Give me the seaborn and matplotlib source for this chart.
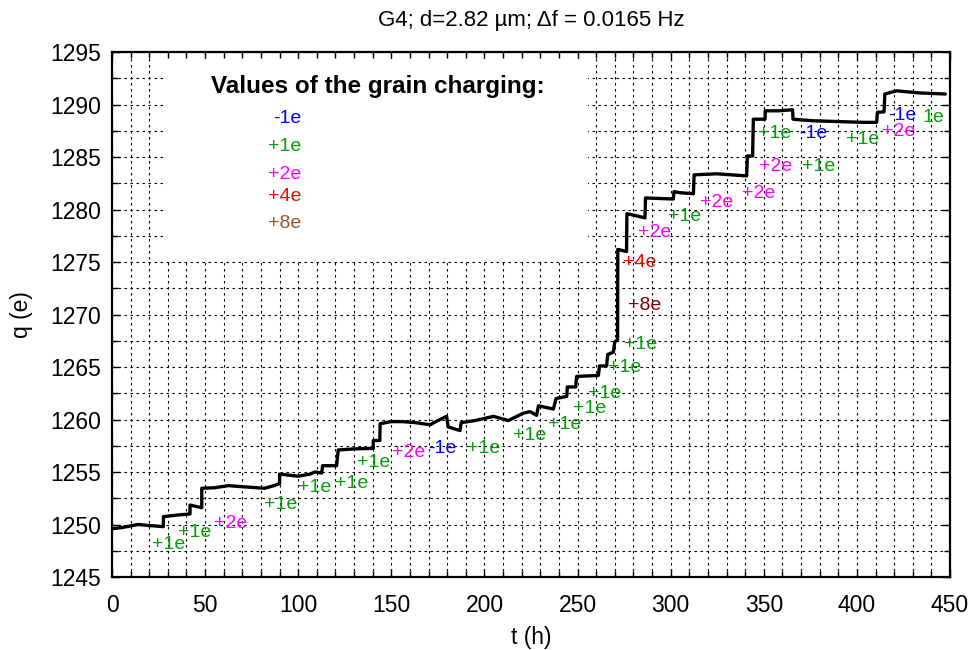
import matplotlib
matplotlib.use("Agg")
import matplotlib.pyplot as plt
import seaborn as sns
import pandas as pd
from matplotlib.patches import Rectangle
from matplotlib.ticker import MultipleLocator

# ---- data: grain charge vs time ----
t_h = [0, 5, 14, 20, 27.6, 27.6, 35, 41.9, 41.9, 48.2, 48.2, 55, 62.5, 70, 82, 87, 90, 90,
       100, 106.3, 109, 112.6, 113.1, 120.6, 121.5, 130, 140.3, 140.3, 143.8, 144, 150, 156,
       163, 170.8, 175, 179.7, 180.5, 184, 186.9, 187.5, 195, 204.8, 212.8, 220.9, 224.5,
       228, 229, 237, 238.5, 244.2, 244.5, 249, 249.5, 261.2, 261.8, 265.6, 266.2, 269.2,
       270, 271.5, 271.6, 276.3, 276.5, 281.7, 286.2, 286.5, 301.4, 301.8, 305, 312.2,
       312.6, 324.7, 340.8, 341.2, 344.0, 344.4, 350.7, 350.8, 358, 365.5, 365.7, 376.6,
       394.5, 403.5, 410.6, 411, 414.6, 415, 421.4, 433.9, 447.5]
q_e = [1249.6, 1249.7, 1250.0, 1249.9, 1249.8, 1250.75, 1250.9, 1251.0, 1251.85, 1251.6,
       1253.45, 1253.5, 1253.7, 1253.6, 1253.45, 1253.7, 1253.9, 1254.8, 1254.6, 1254.8,
       1255.0, 1254.9, 1255.6, 1255.6, 1257.1, 1257.2, 1257.25, 1258.0, 1258.0, 1259.6,
       1259.8, 1259.8, 1259.7, 1259.5, 1259.9, 1260.3, 1259.3, 1259.1, 1258.95, 1259.7,
       1259.9, 1260.3, 1259.9, 1260.6, 1260.75, 1260.4, 1261.3, 1261.0, 1262.0, 1262.2,
       1263.1, 1263.1, 1264.1, 1264.2, 1265.1, 1265.1, 1266.2, 1266.4, 1267.4, 1267.6,
       1276.2, 1276.0, 1279.6, 1279.4, 1279.2, 1281.1, 1281.0, 1281.7, 1281.6, 1281.5,
       1283.3, 1283.4, 1283.2, 1285.1, 1285.1, 1288.6, 1288.6, 1289.4, 1289.4, 1289.5,
       1288.6, 1288.45, 1288.35, 1288.3, 1288.3, 1289.25, 1289.3, 1291.0, 1291.3, 1291.1,
       1291.0]

# ---- step annotations ----
ann_text = ["+1e", "+1e", "+2e", "+1e", "+1e", "+1e", "+1e", "+2e", "-1e", "+1e",
            "+1e", "+1e", "+1e", "+1e", "+1e", "+1e", "+8e", "+4e", "+2e", "+1e",
            "+2e", "+2e", "+2e", "+1e", "+1e", "-1e", "+1e", "+2e", "-1e", "1e"]
ann_t = [30.2, 44.6, 63.9, 90.8, 109.0, 128.6, 140.3, 159.1, 177.5, 199.4,
         224.5, 243.3, 256.7, 264.7, 275.5, 283.9, 286.2, 283.5, 291.6, 307.7,
         324.7, 347.1, 356.6, 379.3, 356.0, 376.6, 403.1, 422.2, 424.1, 441.0]
ann_q = [1248.05, 1249.22, 1250.14, 1251.9, 1253.57, 1253.86, 1255.95, 1256.84, 1257.26, 1257.26,
         1258.46, 1259.57, 1261.05, 1262.5, 1264.97, 1267.1, 1270.9, 1274.93, 1277.8, 1279.3,
         1280.65, 1281.48, 1284.08, 1284.08, 1287.26, 1287.26, 1286.69, 1287.4, 1288.95, 1288.78]

# ---- key entries ----
key_title = "Values of the grain charging:"
key_text = ["-1e", "+1e", "+2e", "+4e", "+8e"]
key_q = [1288.62, 1285.98, 1283.35, 1281.22, 1278.62]

colors_ann = {"-1e": "#0000ff", "+1e": "#00a000", "1e": "#00a000", "+2e": "#ff00ff",
              "+4e": "#ff0000", "+8e": "#800000"}
colors_key = {"-1e": "#0000ff", "+1e": "#00a000", "+2e": "#ff00ff",
              "+4e": "#ff0000", "+8e": "#a0522d"}

sns.set_theme(style="white")
plt.rcParams['font.family'] = ['Liberation Sans', 'DejaVu Sans']

fig = plt.figure(figsize=(9.72, 6.5), dpi=100)
ax = fig.add_axes([112/972, 1-577/650, (950-112)/972, (577-52)/650])

df = pd.DataFrame({"t": t_h, "q": q_e})
sns.lineplot(data=df, x="t", y="q", sort=False, estimator=None, color="black",
             linewidth=2.4, ax=ax, zorder=3)

ax.set_xlim(0, 450)
ax.set_ylim(1245, 1295)
ax.xaxis.set_major_locator(MultipleLocator(50))
ax.xaxis.set_minor_locator(MultipleLocator(10))
ax.yaxis.set_major_locator(MultipleLocator(5))
ax.yaxis.set_minor_locator(MultipleLocator(2.5))
ax.tick_params(which="both", direction="in", top=True, right=True, bottom=True, left=True,
               color="black", width=1.0)
ax.tick_params(which="major", length=6, labelsize=16.5)
ax.tick_params(which="minor", length=4)
ax.tick_params(axis="x", which="major", pad=12)
ax.tick_params(axis="y", which="major", pad=8)
ax.set_axisbelow(True)
ax.grid(True, which="both", color="black", linestyle=(0, (2.2, 3.2)), linewidth=0.8)
for s in ax.spines.values():
    s.set_color("black")
    s.set_linewidth(1.6)

# white key box covering the grid
ax.add_patch(Rectangle((27.4, 1275.15), 255.6 - 27.4, 1294.3 - 1275.15,
                       facecolor="white", edgecolor="none", zorder=1))
ax.text(143.0, 1291.7, key_title, fontsize=17.5, fontweight="bold", ha="center",
        va="center", color="black", zorder=4)
for txt, q in zip(key_text, key_q):
    ax.text(101.5, q, txt, fontsize=14, ha="right", va="center",
            color=colors_key[txt], zorder=4)

for txt, t, q in zip(ann_text, ann_t, ann_q):
    ax.text(t, q, txt, fontsize=14, ha="center", va="center",
            color=colors_ann[txt], zorder=4)

ax.set_xlabel("t (h)", fontsize=16.5, labelpad=7, color="black")
ax.set_ylabel("q (e)", fontsize=16.5, labelpad=12, color="black")
ax.set_title("G4; d=2.82 \u00b5m; \u0394f = 0.0165 Hz", fontsize=16, pad=19, color="black")
for lab in ax.get_xticklabels() + ax.get_yticklabels():
    lab.set_color("black")

fig.savefig("out.png", dpi=100, facecolor="white")
